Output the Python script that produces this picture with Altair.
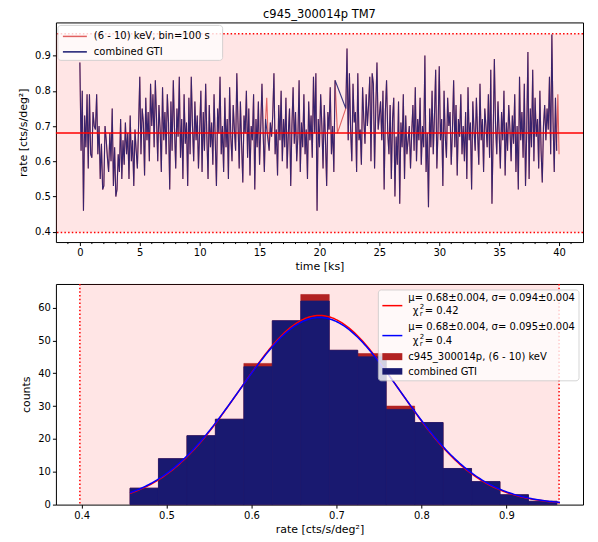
import altair as alt
import pandas as pd

FONT = "DejaVu Sans"
TITLE = "c945_300014p TM7"

# ---------------- light curve (100 s bins, time in ks) ----------------
time_ks = [round(i * 0.1, 1) for i in range(401)]
rate_6_10 = [
    0.88, 0.63, 0.80, 0.46, 0.73, 0.64, 0.79, 0.58, 0.79, 0.62,
    0.61, 0.74, 0.70, 0.69, 0.79, 0.62, 0.70, 0.55, 0.65, 0.52,
    0.53, 0.70, 0.66, 0.61, 0.57, 0.68, 0.60, 0.75, 0.53, 0.64,
    0.50, 0.52, 0.62, 0.57, 0.72, 0.55, 0.66, 0.59, 0.71, 0.62,
    0.68, 0.55, 0.73, 0.60, 0.66, 0.53, 0.69, 0.63, 0.58, 0.70,
    0.84, 0.62, 0.75, 0.71, 0.56, 0.78, 0.66, 0.74, 0.60, 0.82,
    0.70, 0.79, 0.64, 0.83, 0.72, 0.60, 0.76, 0.69, 0.57, 0.81,
    0.66, 0.74, 0.62, 0.79, 0.71, 0.52, 0.77, 0.63, 0.83, 0.69,
    0.58, 0.75, 0.67, 0.84, 0.61, 0.72, 0.55, 0.79, 0.65, 0.71,
    0.53, 0.78, 0.62, 0.84, 0.70, 0.60, 0.77, 0.66, 0.73, 0.58,
    0.69, 0.80, 0.57, 0.74, 0.63, 0.82, 0.67, 0.55, 0.76, 0.64,
    0.71, 0.59, 0.79, 0.66, 0.53, 0.75, 0.68, 0.84, 0.62, 0.70,
    0.57, 0.78, 0.64, 0.72, 0.55, 0.81, 0.67, 0.60, 0.76, 0.69,
    0.63, 0.85, 0.71, 0.58, 0.77, 0.65, 0.54, 0.73, 0.68, 0.80,
    0.61, 0.75, 0.56, 0.70, 0.66, 0.79, 0.52, 0.72, 0.64, 0.77,
    0.59, 0.70, 0.82, 0.68, 0.57, 0.72, 0.78, 0.68, 0.63, 0.71,
    0.67, 0.73, 0.85, 0.62, 0.69, 0.56, 0.76, 0.66, 0.80, 0.60,
    0.72, 0.64, 0.78, 0.58, 0.68, 0.75, 0.53, 0.70, 0.81, 0.65,
    0.74, 0.60, 0.67, 0.83, 0.57, 0.71, 0.64, 0.79, 0.62, 0.69,
    0.55, 0.77, 0.66, 0.73, 0.61, 0.84, 0.68, 0.85, 0.46, 0.72,
    0.64, 0.79, 0.70, 0.58, 0.76, 0.66, 0.53, 0.74, 0.69, 0.81,
    0.62, 0.70, 0.57, 0.83, None, 0.68, None, None, None, None,
    None, None, 0.75, 0.92, 0.66, 0.85, 0.69, 0.60, 0.82, 0.71,
    0.74, 0.57, 0.85, 0.66, 0.69, 0.59, 0.81, 0.72, 0.65, 0.79,
    0.70, 0.76, 0.84, 0.60, 0.85, 0.82, 0.58, 0.75, 0.88, 0.69,
    0.73, 0.77, 0.66, 0.80, 0.52, 0.74, 0.83, 0.68, 0.62, 0.76,
    0.55, 0.72, 0.78, 0.50, 0.67, 0.59, 0.77, 0.48, 0.71, 0.64,
    0.79, 0.55, 0.73, 0.62, 0.66, 0.70, 0.58, 0.68, 0.76, 0.63,
    0.81, 0.60, 0.72, 0.66, 0.78, 0.59, 0.70, 0.64, 0.90, 0.57,
    0.68, 0.47, 0.75, 0.64, 0.80, 0.62, 0.73, 0.86, 0.58, 0.69,
    0.87, 0.66, 0.72, 0.53, 0.80, 0.67, 0.61, 0.78, 0.70, 0.74,
    0.59, 0.69, 0.83, 0.64, 0.76, 0.56, 0.72, 0.67, 0.79, 0.62,
    0.70, 0.60, 0.74, 0.55, 0.81, 0.66, 0.71, 0.52, 0.77, 0.69,
    0.63, 0.78, 0.68, 0.59, 0.82, 0.66, 0.72, 0.57, 0.75, 0.70,
    0.64, 0.79, 0.61, 0.86, 0.48, 0.67, 0.89, 0.70, 0.62, 0.77,
    0.68, 0.58, 0.74, 0.66, 0.80, 0.56, 0.71, 0.63, 0.76, 0.69,
    0.60, 0.73, 0.65, 0.79, 0.57, 0.70, 0.52, 0.84, 0.66, 0.74,
    0.61, 0.82, 0.53, 0.68, 0.91, 0.55, 0.75, 0.64, 0.86, 0.60,
    0.78, 0.67, 0.72, 0.58, 0.80, 0.63, 0.54, 0.70, 0.76, 0.66,
    0.75, 0.69, 0.84, 0.62, 0.96, 0.71, 0.57, 0.78, 0.63, 0.79,
    0.62,
]
# bins present in the (6-10) keV curve but not in the combined GTI
gti_gap_ks = [15.6, 15.7, 21.5, 39.9, 40.0]

mean_rate = 0.68
lower_3sig = 0.398
upper_3sig = 0.962

time_major_ticks = [0, 5, 10, 15, 20, 25, 30, 35, 40]
time_minor_ticks = [-1, 1, 2, 3, 4, 6, 7, 8, 9, 11, 12, 13, 14, 16, 17, 18, 19,
                    21, 22, 23, 24, 26, 27, 28, 29, 31, 32, 33, 34, 36, 37, 38, 39, 41]
rate_ticks = [0.4, 0.5, 0.6, 0.7, 0.8, 0.9]
count_ticks = [0, 10, 20, 30, 40, 50, 60]

# ---------------- histogram ----------------
hist_edges = [0.457, 0.4905, 0.524, 0.5575, 0.591, 0.6245, 0.658, 0.6915,
              0.725, 0.7585, 0.792, 0.8255, 0.859, 0.8925, 0.926, 0.9595]
counts_6_10 = [5, 14, 21, 26, 43, 56, 64, 47, 46, 30, 25, 11, 7, 3, 1]
counts_gti = [5, 14, 21, 26, 42, 56, 62, 47, 45, 29, 25, 11, 7, 3, 1]

# gaussian fits: mu, sigma, amplitude
fit_6_10 = {"mu": 0.68, "sigma": 0.094, "amp": 57.6}
fit_gti = {"mu": 0.68, "sigma": 0.095, "amp": 57.0}
fit_range = [0.457, 0.964]

label_fit_6_10 = "μ= 0.68±0.004, σ= 0.094±0.004"
chi_6_10 = "= 0.42"
label_fit_gti = "μ= 0.68±0.004, σ= 0.095±0.004"
chi_gti = "= 0.4"

# ---------------- frames ----------------
df_red = pd.DataFrame({"t": time_ks, "rate": rate_6_10}).dropna()
df_gti = df_red[~df_red["t"].isin(gti_gap_ks)]
df_hist = pd.DataFrame({"lo": hist_edges[:-1], "hi": hist_edges[1:],
                        "n_6_10": counts_6_10, "n_gti": counts_gti})
df_span = pd.DataFrame({"lo": [lower_3sig], "hi": [upper_3sig]})
df_lims = pd.DataFrame({"v": [lower_3sig, upper_3sig]})
df_mean = pd.DataFrame({"v": [mean_rate]})
df_minor = pd.DataFrame({"t": time_minor_ticks})
one = pd.DataFrame({"k": [0]})

W, H1, H2 = 528, 220, 221
NAVY = "#191970"
FIREBRICK = "#b22222"


def px_text(txt, x, y, size=10, align="left"):
    return alt.Chart(one).mark_text(align=align, baseline="middle", fontSize=size,
                                    font=FONT, color="black").encode(
        x=alt.value(x), y=alt.value(y), text=alt.value(txt))


def px_rule(x1, x2, y, color, width=1.5):
    return alt.Chart(one).mark_rule(color=color, strokeWidth=width).encode(
        x=alt.value(x1), x2=alt.value(x2), y=alt.value(y))


def px_rect(x1, x2, y1, y2, **kw):
    return alt.Chart(one).mark_rect(**kw).encode(
        x=alt.value(x1), x2=alt.value(x2), y=alt.value(y1), y2=alt.value(y2))


# ======================= top panel =======================
xs_t = alt.Scale(domain=[-2.0, 42.0], nice=False, zero=False)
ys_t = alt.Scale(domain=[0.371, 0.994], nice=False, zero=False)
x_axis_t = alt.Axis(title="time [ks]", values=time_major_ticks,
                    labelOverlap=False, labelFlush=False, titlePadding=3)
y_axis_t = alt.Axis(title="rate [cts/s/deg²]", values=rate_ticks,
                    format=".1f", minExtent=22, maxExtent=22, titlePadding=5,
                    labelOverlap=False, labelFlush=False)
XT = dict(scale=xs_t, axis=x_axis_t)
YT = dict(scale=ys_t, axis=y_axis_t)

span_t = alt.Chart(df_span).mark_rect(color="red", opacity=0.1).encode(
    x=alt.value(0), x2=alt.value(W),
    y=alt.Y("lo:Q", **YT), y2="hi:Q")
dot_t = alt.Chart(df_lims).mark_rule(
    color="red", strokeWidth=1.5, strokeDash=[1.5, 2.2]).encode(
    y=alt.Y("v:Q", **YT))
line_red = alt.Chart(df_red).mark_line(color="#e06060", strokeWidth=1.1).encode(
    x=alt.X("t:Q", **XT), y=alt.Y("rate:Q", **YT))
line_gti = alt.Chart(df_gti).mark_line(color=NAVY, strokeWidth=1.1, opacity=0.85).encode(
    x=alt.X("t:Q", **XT), y=alt.Y("rate:Q", **YT))
mean_t = alt.Chart(df_mean).mark_rule(color="red", strokeWidth=1.5).encode(
    y=alt.Y("v:Q", **YT))
minor_t = alt.Chart(df_minor).mark_rule(color="black", strokeWidth=1).encode(
    x=alt.X("t:Q", **XT), y=alt.value(H1), y2=alt.value(H1 + 2))

leg_t = [
    px_rect(2, 167, 3, 38, fill="white", opacity=0.8, stroke="#cccccc",
            strokeWidth=1, cornerRadius=3),
    px_rule(7, 31, 14, "#e06060", 1.5),
    px_rule(7, 31, 29.5, NAVY, 1.5),
    px_text("(6 - 10) keV, bin=100 s", 38, 14),
    px_text("combined GTI", 38, 29.5),
]

top = alt.layer(span_t, dot_t, line_red, line_gti, mean_t, minor_t, *leg_t).properties(
    width=W, height=H1,
    title=alt.TitleParams(TITLE, fontSize=11.5, fontWeight="normal", font=FONT,
                          color="black", anchor="middle", offset=2))

# ======================= bottom panel =======================
xs_b = alt.Scale(domain=[0.3698, 0.9902], nice=False, zero=False)
ys_b = alt.Scale(domain=[0, 67.2], nice=False, zero=False)
x_axis_b = alt.Axis(title="rate [cts/s/deg²]", values=rate_ticks,
                    format=".1f", labelOverlap=False, labelFlush=False, titlePadding=3)
y_axis_b = alt.Axis(title="counts", values=count_ticks,
                    minExtent=22, maxExtent=22, titlePadding=2,
                    labelOverlap=False, labelFlush=False)
XB = dict(scale=xs_b, axis=x_axis_b)
YB = dict(scale=ys_b, axis=y_axis_b)

span_b = alt.Chart(df_span).mark_rect(color="red", opacity=0.1).encode(
    y=alt.value(0), y2=alt.value(H2),
    x=alt.X("lo:Q", **XB), x2="hi:Q")
dot_b = alt.Chart(df_lims).mark_rule(
    color="red", strokeWidth=1.5, strokeDash=[1.5, 2.2]).encode(
    x=alt.X("v:Q", **XB))
bars_red = alt.Chart(df_hist).transform_calculate(base="0").mark_rect(
    color=FIREBRICK, stroke=FIREBRICK, strokeWidth=0.6).encode(
    x=alt.X("lo:Q", **XB), x2="hi:Q",
    y=alt.Y("n_6_10:Q", **YB), y2="base:Q")
bars_gti = alt.Chart(df_hist).transform_calculate(base="0").mark_rect(
    color=NAVY, stroke=NAVY, strokeWidth=0.8).encode(
    x=alt.X("lo:Q", **XB), x2="hi:Q",
    y=alt.Y("n_gti:Q", **YB), y2="base:Q")


def gauss(fit, color):
    expr = (f"{fit['amp']} * exp(-pow(datum.x - {fit['mu']}, 2) / "
            f"(2 * {fit['sigma']} * {fit['sigma']}))")
    return alt.Chart(alt.sequence(fit_range[0], fit_range[1] + 0.0005, 0.002, as_="x")).transform_calculate(
        g=expr).mark_line(color=color, strokeWidth=1.5).encode(
        x=alt.X("x:Q", **XB), y=alt.Y("g:Q", **YB))


curve_red = gauss(fit_6_10, "red")
curve_blue = gauss(fit_gti, "blue")

leg_b = [
    px_rect(323, 524, 6, 97, fill="white", opacity=0.8, stroke="#cccccc",
            strokeWidth=1, cornerRadius=3),
    px_rule(327, 347, 21.7, "red", 1.5),
    px_text(label_fit_6_10, 353, 13.7),
    px_text("χ", 357.5, 27.5),
    px_text("2", 364.5, 23.5, size=7),
    px_text("r", 364.5, 30.5, size=7),
    px_text(chi_6_10, 369.5, 27.5),
    px_rule(327, 347, 51.7, "blue", 1.5),
    px_text(label_fit_gti, 353, 42.7),
    px_text("χ", 357.5, 57),
    px_text("2", 364.5, 53, size=7),
    px_text("r", 364.5, 60, size=7),
    px_text(chi_gti, 369.5, 57),
    px_rect(327, 347, 69.3, 76.3, fill=FIREBRICK),
    px_text("c945_300014p, (6 - 10) keV", 353, 72.7),
    px_rect(327, 347, 84.3, 90.8, fill=NAVY),
    px_text("combined GTI", 353, 87.7),
]

bottom = alt.layer(span_b, dot_b, bars_red, bars_gti, curve_red, curve_blue, *leg_b).properties(
    width=W, height=H2)

chart = alt.vconcat(top, bottom, spacing=10).properties(
    padding={"left": 9, "top": 0, "right": 5, "bottom": 0}
).configure_view(stroke="black", strokeWidth=1).configure_axis(
    labelFont=FONT, titleFont=FONT, labelFontSize=10, titleFontSize=11,
    labelColor="black", titleColor="black", tickColor="black",
    domain=False, grid=False, titleFontWeight="normal", labelPadding=2, tickSize=3.5)

chart.save("out.html", embed_options={"renderer": "svg", "actions": False})
